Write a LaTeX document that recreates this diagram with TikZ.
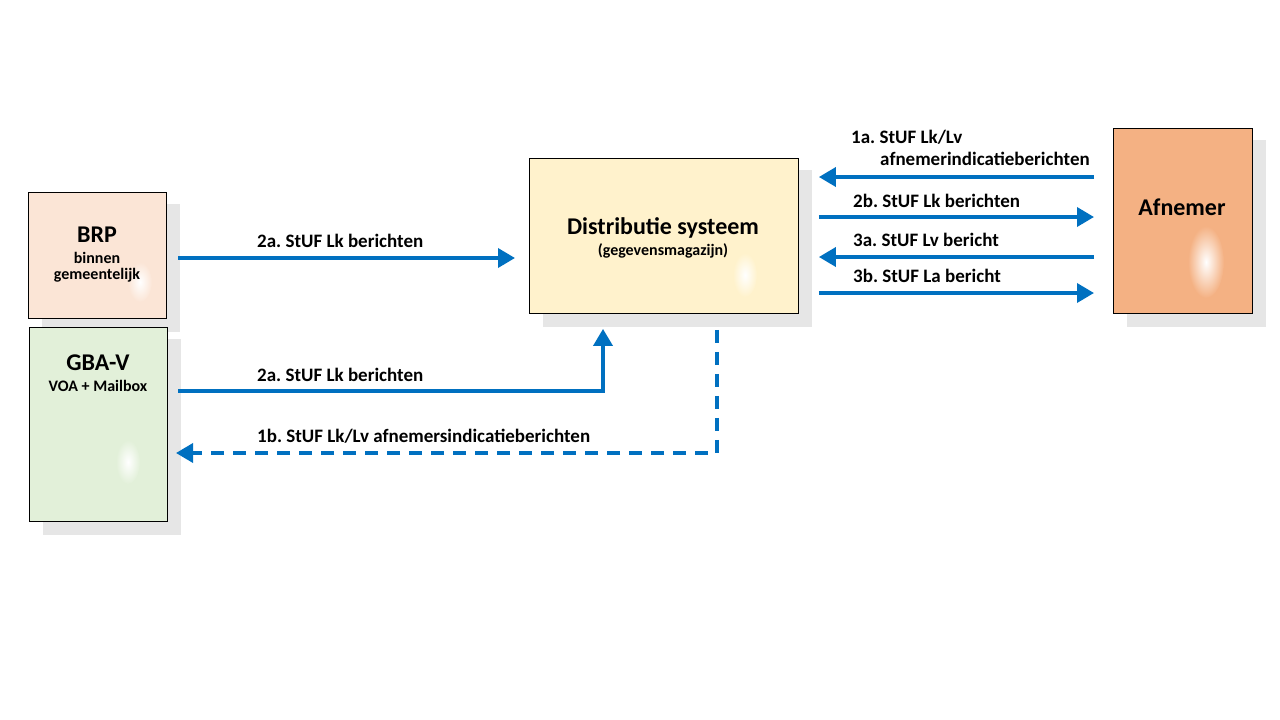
\documentclass[tikz,border=0pt]{standalone}
\usepackage{fontspec}
\setmainfont{Carlito}
\usetikzlibrary{arrows.meta,calc}
\definecolor{arrblue}{HTML}{0070C0}
\definecolor{brpfill}{HTML}{FBE5D6}
\definecolor{gbafill}{HTML}{E2F0D9}
\definecolor{distfill}{HTML}{FFF2CC}
\definecolor{afnfill}{HTML}{F4B183}
\definecolor{shadowgray}{HTML}{E6E6E6}
\frenchspacing
\tikzset{
  box/.style={draw=black, line width=0.9pt, inner sep=0pt, anchor=north west},
  arr/.style={draw=arrblue, line width=3.6pt, -{Triangle[length=17pt,width=19pt]}},
  darr/.style={arr, dash pattern=on 13pt off 9pt},
  lbl/.style={font=\bfseries\fontsize{19}{22}\selectfont, anchor=base west, inner sep=0pt},
  big/.style={font=\bfseries\fontsize{24}{28}\selectfont, anchor=base, inner sep=0pt},
  small/.style={font=\bfseries\fontsize{16}{18}\selectfont, anchor=base, inner sep=0pt},
}
\begin{document}
\begin{tikzpicture}[x=1pt,y=-1pt]
\useasboundingbox (0,0) rectangle (1280,720);
% shadows
\fill[shadowgray] (42,204) rectangle (180,332);
\fill[shadowgray] (43,339) rectangle (181,535);
\fill[shadowgray] (543,170) rectangle (812,327);
\fill[shadowgray] (1127,140) rectangle (1266,327);
% boxes
\node[box, fill=brpfill, minimum width=138pt, minimum height=126pt] (brp) at (28,192) {};
\node[box, fill=gbafill, minimum width=138pt, minimum height=194pt] (gba) at (29,327) {};
\node[box, fill=distfill, minimum width=269pt, minimum height=155pt] (dist) at (529,158) {};
\node[box, fill=afnfill, minimum width=139pt, minimum height=185pt] (afn) at (1113,128) {};
% glows
\shade[inner color=white, outer color=brpfill] (140,282) ellipse [x radius=12, y radius=20];
\shade[inner color=white, outer color=gbafill] (128,462) ellipse [x radius=12, y radius=22];
\shade[inner color=white, outer color=distfill] (745,275) ellipse [x radius=12, y radius=22];
\shade[inner color=white, outer color=afnfill] (1206,262) ellipse [x radius=18, y radius=36];
% texts
\node[big] (brpt) at (97,242) {BRP};
\node[small] (brps1) at (97,263) {binnen};
\node[small] (brps2) at (97,279) {gemeentelijk};
\node[big] (gbat) at (98,370) {GBA-V};
\node[small] (gbas) at (98,391) {VOA + Mailbox};
\node[big] (distt) at (663,234) {Distributie systeem};
\node[small] (dists) at (663,255) {(gegevensmagazijn)};
\node[big] (afnt) at (1182,215) {Afnemer};
% connectors left
\coordinate (b1) at (178,258);
\coordinate (g1) at (178,391);
\coordinate (d1) at (176,453);
\draw[arr] (b1) -- ([xshift=-14pt]dist.west |- b1);
\draw[arr] (g1) -| ([yshift=-15pt]dist.south -| 603,0);
\draw[darr] ([yshift=-16pt]dist.south -| 717,0) |- (d1);
\node[lbl] (l2a) at (257,247) {2a. StUF Lk berichten};
\node[lbl] (l2a2) at (257,381) {2a. StUF Lk berichten};
\node[lbl] (l1b) at (257,442) {1b. StUF Lk/Lv afnemersindicatieberichten};
% connectors right
\draw[arr] ([xshift=-19pt]afn.west |- 0,177) -- ([xshift=20pt]dist.east |- 0,177);
\draw[arr] ([xshift=20pt]dist.east |- 0,217) -- ([xshift=-19pt]afn.west |- 0,217);
\draw[arr] ([xshift=-19pt]afn.west |- 0,257) -- ([xshift=20pt]dist.east |- 0,257);
\draw[arr] ([xshift=20pt]dist.east |- 0,293) -- ([xshift=-19pt]afn.west |- 0,293);
\node[lbl] (l1a) at (851,143) {1a. StUF Lk/Lv};
\node[lbl] (l1a2) at (880,165) {afnemerindicatieberichten};
\node[lbl] (l2b) at (853,207) {2b. StUF Lk berichten};
\node[lbl] (l3a) at (853,246) {3a. StUF Lv bericht};
\node[lbl] (l3b) at (853,282) {3b. StUF La bericht};
\end{tikzpicture}
\end{document}
